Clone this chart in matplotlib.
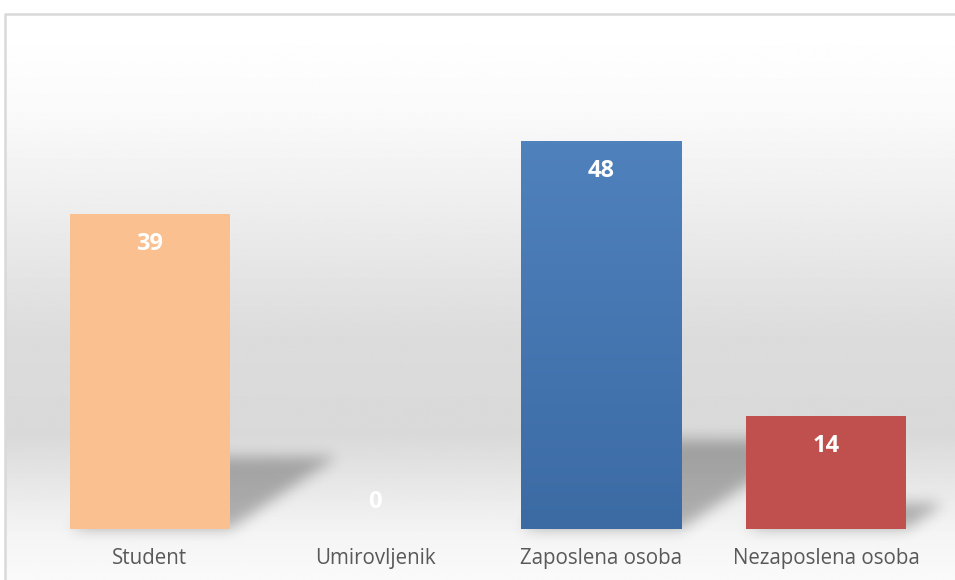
import numpy as np
import matplotlib
matplotlib.use("Agg")
import matplotlib.pyplot as plt
from matplotlib.patches import Polygon
from matplotlib.colors import LinearSegmentedColormap
from matplotlib.transforms import offset_copy

# podaci sa grafa
kategorije = ["Student", "Umirovljenik", "Zaposlena osoba", "Nezaposlena osoba"]
vrijednosti = [39, 0, 48, 14]
boje = ["#fac090", "#4f81bd", "#4f81bd", "#c0504d"]

W, H = 955, 580
fig = plt.figure(figsize=(W / 100, H / 100), dpi=100)
fig.patch.set_facecolor("white")

# pozadina - sivi gradijent kao u excelu
bg = fig.add_axes([0, 0, 1, 1], zorder=-1)
bg.set_xlim(0, W)
bg.set_ylim(H, 0)
bg.axis("off")
py = np.arange(H)
stops_y = [14, 100, 180, 330, 430, 529, 580]
stops_g = [255, 250, 240, 220, 217, 244, 250]
g = np.interp(py, stops_y, stops_g) / 255.0
grad = np.repeat(g[:, None], 2, axis=1)
bg.imshow(grad, cmap="gray", vmin=0, vmax=1, extent=[5, W, H, 14],
          aspect="auto", interpolation="bilinear")
bg.plot([5, 5, W], [H, 14, 14], color="#d9d9d9", lw=1.8)


# blur za sjene
class Blur:
    def __init__(self, sigma=7, alpha=0.28):
        self.sigma = sigma
        self.alpha = alpha

    def __call__(self, im, dpi):
        pad = int(3 * self.sigma)
        src = np.pad(im, [(pad, pad), (pad, pad), (0, 0)], "constant")
        a = src[:, :, 3] * self.alpha
        x = np.arange(-pad, pad + 1)
        k = np.exp(-x ** 2 / (2.0 * self.sigma ** 2))
        k /= k.sum()
        for os in (0, 1):
            out = np.zeros_like(a)
            for i, w in enumerate(k):
                out += w * np.roll(a, i - pad, axis=os)
            a = out
        tgt = np.zeros_like(src)
        tgt[:, :, 3] = a
        return tgt, -pad, -pad


ax = fig.add_axes([37 / W, 51 / H, 902 / W, 485 / H])
ax.patch.set_alpha(0)
xs = np.arange(len(kategorije))
sirina = 0.71

# sjene iza stupaca (perspektiva)
pomak = 0.0122
visina = 0.23
for x, v in zip(xs, vrijednosti):
    if v == 0:
        continue
    l, r = x - sirina / 2, x + sirina / 2
    sj = Polygon([(l, 0), (r, 0), (r + pomak * v, visina * v), (l + pomak * v, visina * v)],
                 closed=True, facecolor="black", edgecolor="none", zorder=1)
    sj.set_agg_filter(Blur())
    ax.add_patch(sj)

bars = ax.bar(xs, vrijednosti, width=sirina, color=boje, zorder=2)

# plavi stupac ima blagi gradijent
p = bars[2]
bgrad = np.linspace(0, 1, 100)[:, None]
cm = LinearSegmentedColormap.from_list("pl", ["#3c6ba4", "#4f81bd"])
im = ax.imshow(bgrad, cmap=cm, origin="lower", aspect="auto",
               extent=[p.get_x(), p.get_x() + p.get_width(), 0, p.get_height()], zorder=3)
im.set_clip_path(p)

ax.set_xlim(-0.5, len(kategorije) - 0.5)
ax.set_ylim(0, 60)

# brojevi unutar stupaca (nula ide iznad osi, kao u excelu)
ispod = offset_copy(ax.transData, fig=fig, x=0, y=-30, units="dots")
iznad = offset_copy(ax.transData, fig=fig, x=0, y=27, units="dots")
for x, v in zip(xs, vrijednosti):
    ax.text(x, v, str(v), transform=ispod if v > 0 else iznad, ha="center", va="center",
            color="white", fontsize=17, fontweight="bold", family="Open Sans", zorder=5)

ax.set_xticks(xs)
ax.set_xticklabels(kategorije, family="Open Sans", fontsize=14.8, color="#595959")
ax.tick_params(axis="x", length=0, pad=14)
ax.set_yticks([])
for s in ax.spines.values():
    s.set_visible(False)

fig.savefig("out.png", dpi=100)
